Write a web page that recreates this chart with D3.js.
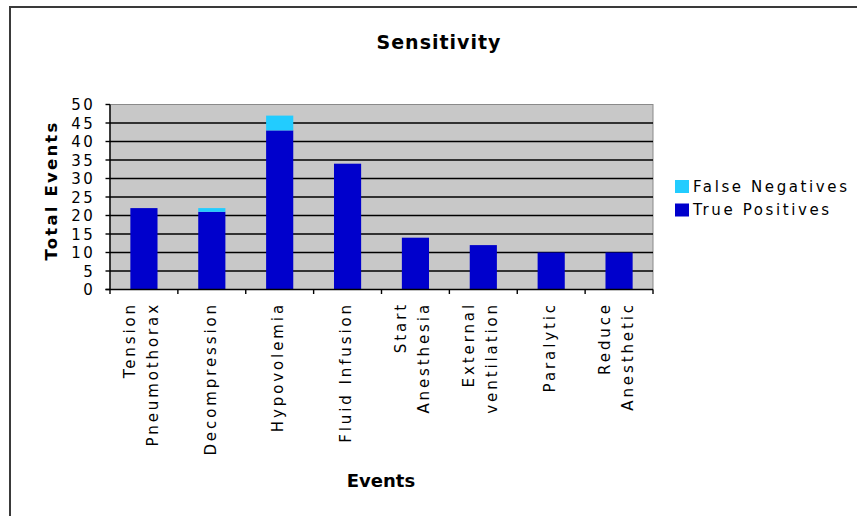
<!DOCTYPE html>
<html>
<head>
<meta charset="utf-8">
<script src="https://cdn.jsdelivr.net/npm/d3@7/dist/d3.min.js"></script>
<style>
  html, body { margin: 0; padding: 0; background: #ffffff; }
  svg { display: block; }
  text { font-family: "DejaVu Sans", Verdana, sans-serif; fill: #000; }
</style>
</head>
<body>
<svg id="chart" width="857" height="516"></svg>
<script>
// Event categories (each label split into its display lines)
const categories = [
  "Tension Pneumothorax", "Decompression", "Hypovolemia", "Fluid Infusion",
  "Start Anesthesia", "External ventilation", "Paralytic", "Reduce Anesthetic"
];
const labelLines = [
  ["Tension", "Pneumothorax"], ["Decompression"], ["Hypovolemia"], ["Fluid Infusion"],
  ["Start", "Anesthesia"], ["External", "ventilation"], ["Paralytic"], ["Reduce", "Anesthetic"]
];
const truePositives  = [22, 21, 43, 34, 14, 12, 10, 10];
const falseNegatives = [0, 1, 4, 0, 0, 0, 0, 0];
const yTicks = [0, 5, 10, 15, 20, 25, 30, 35, 40, 45, 50];
const seriesNames = ["False Negatives", "True Positives"];
const seriesColors = { "True Positives": "#0000cc", "False Negatives": "#22ccff" };

const svg = d3.select("#chart");

// Outer frame
svg.append("path")
  .attr("d", "M10,530 L10,7 L870,7")
  .attr("fill", "none").attr("stroke", "#3a3a3a").attr("stroke-width", 2);

const plot = { left: 110, right: 653, top: 104.5, bottom: 289.5 };

const x = d3.scaleBand()
  .domain(categories)
  .range([plot.left, plot.right])
  .paddingInner(0.6)
  .paddingOuter(0.3);

const y = d3.scaleLinear()
  .domain([0, 50])
  .range([plot.bottom, plot.top]);

// Plot background
svg.append("rect")
  .attr("x", plot.left).attr("y", plot.top)
  .attr("width", plot.right - plot.left).attr("height", plot.bottom - plot.top)
  .attr("fill", "#c8c8c8").attr("stroke", "#8a8a8a").attr("stroke-width", 1);

// Horizontal gridlines
svg.append("g").selectAll("line")
  .data(yTicks.filter(t => t > 0 && t < 50))
  .join("line")
  .attr("x1", plot.left).attr("x2", plot.right)
  .attr("y1", d => y(d)).attr("y2", d => y(d))
  .attr("stroke", "#000").attr("stroke-width", 1.4);

// Stacked bars
const table = categories.map((c, i) => ({
  category: c,
  "True Positives": truePositives[i],
  "False Negatives": falseNegatives[i]
}));
const stack = d3.stack().keys(["True Positives", "False Negatives"]);
const layers = stack(table);

svg.append("g").selectAll("g")
  .data(layers)
  .join("g")
  .attr("fill", d => seriesColors[d.key])
  .selectAll("rect")
  .data(d => d.filter(s => s[1] > s[0]))
  .join("rect")
  .attr("x", d => x(d.data.category))
  .attr("width", x.bandwidth())
  .attr("y", d => y(d[1]))
  .attr("height", d => y(d[0]) - y(d[1]));

// Y axis
const yAxis = svg.append("g");
yAxis.append("line")
  .attr("x1", plot.left).attr("x2", plot.left)
  .attr("y1", plot.top).attr("y2", plot.bottom)
  .attr("stroke", "#000").attr("stroke-width", 1.4);
yAxis.selectAll("line.tick")
  .data(yTicks)
  .join("line")
  .attr("class", "tick")
  .attr("x1", plot.left - 4.5).attr("x2", plot.left)
  .attr("y1", d => y(d)).attr("y2", d => y(d))
  .attr("stroke", "#000").attr("stroke-width", 1.4);
yAxis.selectAll("text")
  .data(yTicks)
  .join("text")
  .attr("x", 95)
  .attr("y", d => y(d) + 5.6)
  .attr("text-anchor", "end")
  .style("font-size", "15px")
  .style("letter-spacing", "2.3px")
  .text(d => d);

// X axis
const step = x.step();
const bandStart = x(categories[0]) - step * x.paddingInner() / 2;
const boundaries = d3.range(categories.length + 1).map(i => bandStart + i * step);
const xAxis = svg.append("g");
xAxis.append("line")
  .attr("x1", plot.left - 4.5).attr("x2", plot.right)
  .attr("y1", plot.bottom).attr("y2", plot.bottom)
  .attr("stroke", "#000").attr("stroke-width", 1.4);
xAxis.selectAll("line.tick")
  .data(boundaries)
  .join("line")
  .attr("class", "tick")
  .attr("x1", d => d).attr("x2", d => d)
  .attr("y1", plot.bottom).attr("y2", plot.bottom + 4.5)
  .attr("stroke", "#000").attr("stroke-width", 1.4);

const lineOffsets = { 1: [3.8], 2: [-9.2, 13.8] };
const labelGroups = xAxis.selectAll("g.label")
  .data(categories)
  .join("g")
  .attr("class", "label");
labelGroups.each(function(c, i) {
  const lines = labelLines[i];
  const cx = x(c) + x.bandwidth() / 2;
  d3.select(this).selectAll("text")
    .data(lines)
    .join("text")
    .attr("transform", (l, j) => `translate(${cx + lineOffsets[lines.length][j]},302) rotate(-90)`)
    .attr("text-anchor", "end")
    .style("font-size", "15px")
    .style("letter-spacing", "2.9px")
    .text(l => l);
});

// Titles
svg.append("text")
  .attr("x", 439).attr("y", 49)
  .attr("text-anchor", "middle")
  .style("font-size", "19px").style("font-weight", "bold")
  .style("letter-spacing", "1px")
  .text("Sensitivity");

svg.append("text")
  .attr("x", 381).attr("y", 487)
  .attr("text-anchor", "middle")
  .style("font-size", "18px").style("font-weight", "bold")
  .text("Events");

svg.append("text")
  .attr("transform", "translate(56.5,190.5) rotate(-90)")
  .attr("text-anchor", "middle")
  .style("font-size", "16.5px").style("font-weight", "bold")
  .style("letter-spacing", "2.2px")
  .text("Total Events");

// Legend
const legend = svg.append("g").selectAll("g")
  .data(seriesNames)
  .join("g")
  .attr("transform", (d, i) => `translate(675,${180 + i * 23.5})`);
legend.append("rect")
  .attr("width", 14).attr("height", 13)
  .attr("fill", d => seriesColors[d]);
legend.append("text")
  .attr("x", 18).attr("y", 11.8)
  .style("font-size", "15px")
  .style("letter-spacing", "2.6px")
  .text(d => d);
</script>
</body>
</html>
